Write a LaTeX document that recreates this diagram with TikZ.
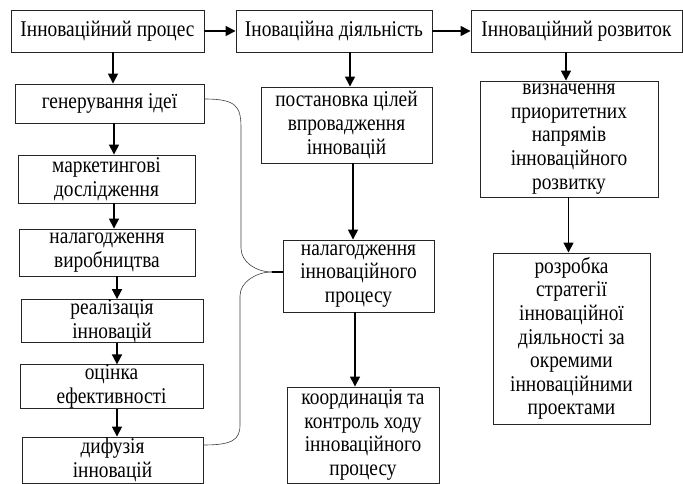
\documentclass[tikz,border=0pt]{standalone}
\usepackage{fontspec}
\setmainfont[FakeStretch=0.86]{Liberation Serif}
\usetikzlibrary{arrows.meta}

\begin{document}
\begin{tikzpicture}[x=1pt,y=-1pt,
    box/.style={draw=black!85, line width=0.9pt, align=center, inner sep=0pt,
      font=\fontsize{22.5}{23.6}\selectfont},
    arr/.style={line width=1.6pt, -{Triangle[length=10pt,width=10pt]}},
    brace/.style={line width=0.6pt, black!75}]
  \useasboundingbox (0,0) rectangle (683,484);
  % top row
  \node[box, minimum width=193, minimum height=42] (proc) at (107.5,31) {Інноваційний процес};
  \node[box, minimum width=196, minimum height=42] (dial) at (334,31) {Іноваційна діяльність};
  \node[box, minimum width=211, minimum height=42] (rozv) at (576.5,31) {Інноваційний розвиток};
  % left column
  \node[box, minimum width=189, minimum height=39] (gen) at (109.5,103.5) {генерування ідеї};
  \node[box, minimum width=177, minimum height=48] (mark) at (106.5,179) {маркетингові\\дослідження};
  \node[box, minimum width=176, minimum height=47] (nal) at (107,252.5) {налагодження\\виробництва};
  \node[box, minimum width=182, minimum height=42] (real) at (112,321) {реалізація\\інновацій};
  \node[box, minimum width=183, minimum height=43] (ocin) at (111.5,386.5) {оцінка\\ефективності};
  \node[box, minimum width=181, minimum height=46] (dyf) at (112.5,460) {дифузія\\інновацій};
  % middle column
  \node[box, minimum width=171, minimum height=76] (post) at (346.5,125) {постановка цілей\\впровадження\\інновацій};
  \node[box, minimum width=151, minimum height=72] (nalp) at (358.5,276) {налагодження\\інноваційного\\процесу};
  \node[box, minimum width=152, minimum height=96] (koord) at (363,435) {координація та\\контроль ходу\\інноваційного\\процесу};
  % right column
  \node[box, minimum width=178, minimum height=116] (vyzn) at (569,139) {визначення\\приоритетних\\напрямів\\інноваційного\\розвитку};
  \node[box, minimum width=157, minimum height=171] (rozr) at (571.5,338.5) {розробка\\стратегії\\інноваційної\\діяльності за\\окремими\\інноваційними\\проектами};

  % arrows
  \draw[arr] (proc) -- (dial);
  \draw[arr] (dial) -- (rozv);
  \foreach \u/\v/\d in {proc/gen/3.5, gen/mark/7.5, mark/nal/7, nal/real/5, real/ocin/5.5, ocin/dyf/4.5,
      dial/post/3.5, post/nalp/-5.5, nalp/koord/-8, rozv/vyzn/-3, vyzn/rozr/-3}
    \draw[arr] ([xshift=\d]\v.north |- \u.south) -- ([xshift=\d]\v.north);

  % brace to the middle box
  \coordinate (tip) at (272,272);
  \draw[brace] ([yshift=4.5]gen.east) .. controls (236,99) and (241,106) .. (241,128)
    -- (241,248) .. controls (241,262) and (256,272) .. (tip);
  \draw[brace] ([yshift=15]dyf.east) .. controls (232,445) and (240,440) .. (240,425)
    -- (240,296) .. controls (240,282) and (256,272) .. (tip);
  \draw[line width=1.4pt] (tip) -- (tip -| nalp.west);
\end{tikzpicture}
\end{document}
